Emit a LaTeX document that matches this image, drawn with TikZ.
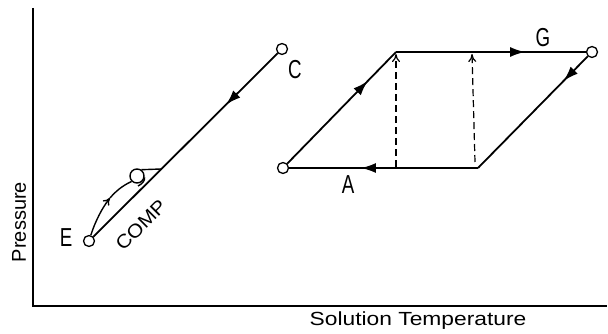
\documentclass[tikz,border=0pt]{standalone}
\usepackage{fontspec}
\setmainfont{Liberation Sans}
\usetikzlibrary{arrows.meta,decorations.markings}
\tikzset{
  pt/.style={circle,draw,fill=white,line width=1.3pt,inner sep=0pt,minimum size=11pt},
  flow/.style={line width=1.8pt},
  amark/.style={postaction={decorate,decoration={markings,mark=at position #1 with {\arrow{Latex[length=15pt,width=10pt]}}}}},
  lbl/.style={font=\fontsize{26}{30}\selectfont,xscale=0.72,inner sep=0pt},
  dashln/.style={dashed,dash pattern=on 7pt off 4pt,line width=1.2pt},
}
\begin{document}
\begin{tikzpicture}[x=1pt,y=-1pt]
\useasboundingbox (0,0) rectangle (608,334);
% axes
\coordinate (ytop) at (33,8);
\coordinate (orig) at (33,306);
\coordinate (xend) at (607,306);
\draw[line width=1.6pt] (ytop) -- (orig) -- (xend);
\node[font=\fontsize{20}{24}\selectfont,rotate=90,inner sep=0pt] (ylab) at (19,222) {Pressure};
\node[font=\fontsize{19}{22}\selectfont,xscale=1.2,inner sep=0pt] (xlab) at (418,321) {Solution Temperature};
% left line E-C
\node[pt] (E) at (89,241) {};
\node[pt] (C) at (282,49) {};
\draw[flow,amark=0.28] (C) -- (E);
\node[lbl] (Elab) at (66,238) {E};
\node[lbl] (Clab) at (295,70) {C};
% small loop
\node[circle,draw,line width=1.4pt,inner sep=0pt,minimum size=14pt] (loop) at (137,176) {};
\coordinate (jn) at (161,169);
\draw[line width=1.4pt,-{To[length=7pt,width=8pt]}] (E) .. controls (95,222) and (102,208) .. (110,198);
\draw[line width=1.4pt] (110,198) .. controls (116,191) and (122,186) .. (loop.225);
\draw[line width=1.4pt] (loop.55) -- (jn);
\draw[line width=1.4pt] (loop.350) .. controls (145,181) and (142,184) .. (138,186);
\node[font=\fontsize{19}{22}\selectfont,rotate=45,xscale=1.1,inner sep=0pt] (comp) at (141,225) {COMP};
% cycle
\node[pt] (B) at (283,168) {};
\coordinate (TL) at (396,52);
\node[pt] (TR) at (592,52) {};
\coordinate (BR) at (478,168);
\draw[flow,amark=0.74] (B) -- (TL);
\draw[flow,amark=0.68] (TL) -- (TR);
\draw[flow,amark=0.22] (TR) -- (BR);
\draw[flow,amark=0.62] (BR) -- (B);
\node[lbl] (Glab) at (543,38) {G};
\node[lbl] (Alab) at (348,185) {A};
% dashed
\coordinate (d1b) at (396,167);
\coordinate (d1t) at (396,54);
\coordinate (d2b) at (475,162);
\coordinate (d2t) at (472,54);
\draw[dashln,-{To[length=8pt,width=8pt]}] (d1b) -- (d1t);
\draw[dashln,-{To[length=8pt,width=8pt]}] (d2b) -- (d2t);
\end{tikzpicture}
\end{document}
